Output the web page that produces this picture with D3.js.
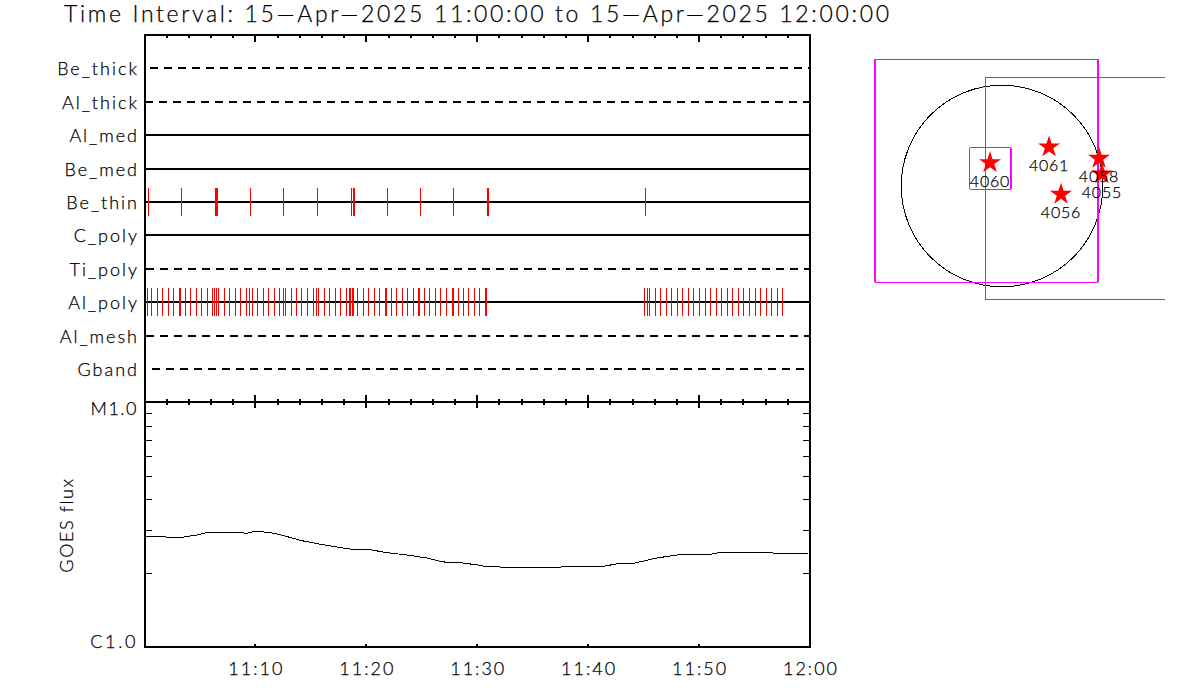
<!DOCTYPE html>
<html>
<head>
<meta charset="utf-8">
<script src="https://cdn.jsdelivr.net/npm/d3@7"></script>
<style>
html,body{margin:0;padding:0;background:#fff;}
svg{display:block;}
text{font-family:Lato,"Liberation Sans",sans-serif;font-weight:300;fill:#000;stroke:#000;stroke-width:0.25px;}
</style>
</head>
<body>
<svg id="chart" width="1200" height="700"></svg>
<script>
const titleText = "Time Interval: 15-Apr-2025 11:00:00 to 15-Apr-2025 12:00:00".replace(/-/g,"\u2014");
const filters = ["Be_thick","Al_thick","Al_med","Be_med","Be_thin","C_poly","Ti_poly","Al_poly","Al_mesh","Gband"];
const dashedFilters = {Be_thick:150, Al_thick:145, Ti_poly:146, Al_mesh:146, Gband:152};
const beThinMinutes = [0.36,3.34,6.40,6.49,6.58,9.56,12.53,15.60,18.67,18.85,18.94,21.91,24.89,27.86,30.93,31.02,45.18];
const alPolyMinutes = [0.09,0.27,0.63,1.17,1.62,2.16,2.61,3.16,3.25,3.70,4.15,4.69,5.14,5.68,6.13,6.31,6.49,6.67,7.21,7.66,8.21,8.66,9.20,9.47,9.74,10.19,10.73,11.18,11.72,12.17,12.53,12.71,13.26,13.71,14.16,14.70,15.24,15.51,15.69,16.23,16.68,17.22,17.67,18.21,18.48,18.58,18.76,18.85,19.21,19.75,20.20,20.74,21.19,21.73,21.82,22.27,22.72,23.26,23.71,24.26,24.71,24.80,25.25,25.70,26.24,26.69,27.23,27.77,27.86,28.31,28.76,29.22,29.76,30.21,30.75,30.84,45.09,45.36,45.54,46.08,46.53,47.07,47.52,48.06,48.51,49.05,49.50,50.04,50.59,51.04,51.58,52.03,52.57,53.02,53.56,54.01,54.55,55.09,55.54,56.09,56.54,57.08,57.53];
const goesMinutes = [0.14,2.48,3.38,4.73,5.73,8.43,9.24,9.96,11.14,12.22,14.2,16.1,18.5,20.15,21.87,23.67,25.47,26.92,28.27,30.25,30.52,32.5,37.47,37.64,41.52,42.87,44.23,46.03,47.56,48.56,51.26,51.89,56.58,56.67,59.83];
const goesFlux = [2.852,2.817,2.817,2.879,2.953,2.953,2.925,2.981,2.953,2.887,2.728,2.628,2.523,2.516,2.437,2.386,2.319,2.234,2.227,2.165,2.151,2.125,2.125,2.145,2.151,2.207,2.212,2.312,2.370,2.401,2.408,2.446,2.446,2.424,2.424];
const timeTickLabels = ["11:10","11:20","11:30","11:40","11:50","12:00"];
const timeTickMinutes = [10,20,30,40,50,60];
const fluxTicks = [1,2,3,4,5,6,7,8,9,10];
const arNames = ["4060","4061","4058","4055","4056"];
const arX = [-114,448,924,952,562];
const arY = [231,381,273,124,-70];
const fovX = [-152,898,-111];
const fovY = [143,-22,167];
const fovSize = [2124,2114,395];
const solarRadius = 960;

const svg = d3.select("#chart");
const magenta = "#ff00ff";
const x = d3.scaleLinear().domain([0,60]).range([144.5,810]);
const filterY = d3.scalePoint().domain(filters).range([68.2,369.16]);
const flux = d3.scaleLog().domain([1,10]).range([647.5,402.5]);
const sx = d3.scaleLinear().domain([-960,960]).range([901.2,1102.8]);
const sy = d3.scaleLinear().domain([-960,960]).range([286.8,85.2]);
const top_ = 35, mid = 402, bot = 647;

// title
svg.append("text").attr("x",64).attr("y",22).attr("font-size",23)
  .attr("textLength",825).attr("lengthAdjust","spacing").text(titleText);

// filter lines and labels
filters.forEach(f=>{
  const y = Math.round(filterY(f));
  const start = dashedFilters[f];
  svg.append("line").attr("x1",start||x(0)).attr("x2",x(60)).attr("y1",y).attr("y2",y)
    .attr("stroke","#000").attr("stroke-width",2).attr("shape-rendering","crispEdges")
    .attr("stroke-dasharray",start?"8 6":null);
  svg.append("text").attr("x",139).attr("y",y+7).attr("text-anchor","end")
    .attr("font-size",18).attr("letter-spacing",2).text(f);
});

// event marks
const drawMarks = (mins, name, half)=>{
  const yy = Math.round(filterY(name));
  svg.append("g").selectAll("line").data(mins).join("line")
    .attr("x1",d=>Math.floor(x(d))+.5).attr("x2",d=>Math.floor(x(d))+.5)
    .attr("y1",yy-half).attr("y2",yy+half)
    .attr("stroke","#ff0000").attr("stroke-width",1).attr("shape-rendering","crispEdges");
};
drawMarks(beThinMinutes,"Be_thin",14);
drawMarks(alPolyMinutes,"Al_poly",14);

// frames
const line = (x1,y1,x2,y2,w=2)=>svg.append("line").attr("x1",x1).attr("y1",y1).attr("x2",x2).attr("y2",y2)
  .attr("stroke","#000").attr("stroke-width",w).attr("shape-rendering","crispEdges");
line(x(0)-1,top_,x(60)+1,top_);
line(x(0)-1,mid,x(60)+1,mid);
line(x(0)-1,bot,x(60)+1,bot);
line(x(0),top_,x(0),bot+1);
line(x(60),top_,x(60),bot+1);

// time ticks
d3.range(2,60,2).forEach(m=>{
  const major = m%10===0;
  const px = x(m);
  line(px,top_,px,top_+(major?7:3));
  line(px,mid-(major?7:3),px,mid+(major?6:3));
  line(px,bot-(major?3:1),px,bot);
});
line(x(60),mid-6,x(60),mid+6);
timeTickMinutes.forEach((m,i)=>{
  svg.append("text").attr("x",x(m)+1).attr("y",675).attr("text-anchor","middle")
    .attr("font-size",18).attr("letter-spacing",2).text(timeTickLabels[i]);
});

// flux ticks
fluxTicks.slice(1,-1).forEach(v=>{
  const y = flux(v);
  line(x(0),y,x(0)+7,y,1);
  line(x(60)-7,y,x(60),y,1);
});
svg.append("text").attr("x",138).attr("y",415).attr("text-anchor","end").attr("font-size",18).attr("letter-spacing",1.5).text("M1.0");
svg.append("text").attr("x",138).attr("y",648).attr("text-anchor","end").attr("font-size",18).attr("letter-spacing",2.6).text("C1.0");
svg.append("text").attr("transform","translate(73,525) rotate(-90)").attr("text-anchor","middle")
  .attr("font-size",18).attr("letter-spacing",1.6).text("GOES flux");

// GOES curve
svg.append("path").attr("d",d3.line().x((d,i)=>x(goesMinutes[i])).y(d=>flux(d))(goesFlux))
  .attr("fill","none").attr("stroke","#000").attr("stroke-width",1).attr("shape-rendering","crispEdges");

// solar map
svg.append("clipPath").attr("id","mapclip").append("rect").attr("x",860).attr("y",50).attr("width",305).attr("height",260);
svg.append("circle").attr("cx",sx(0)).attr("cy",sy(0)).attr("r",sx(solarRadius)-sx(0))
  .attr("fill","none").attr("stroke","#000").attr("stroke-width",1).attr("shape-rendering","crispEdges");
const mapG = svg.append("g").attr("clip-path","url(#mapclip)");
const mag = (x1,y1,x2,y2,w)=>mapG.append("line").attr("x1",x1).attr("y1",y1).attr("x2",x2).attr("y2",y2)
  .attr("stroke",magenta).attr("stroke-width",w).attr("shape-rendering","crispEdges");
fovSize.forEach((s,i)=>{
  const half = s/2;
  const l = sx(fovX[i]-half), r = sx(fovX[i]+half), t = sy(fovY[i]+half), b = sy(fovY[i]-half);
  mag(l,t,r,t,1);
  mag(l,b,r,b,1);
  mag(l,t,l,b,i===0?2:1);
  mag(r,t,r,b,i===1?1:2);
});
const star = d3.symbol().type(d3.symbolStar).size(150);
arNames.forEach((n,i)=>{
  svg.append("path").attr("d",star()).attr("fill","#ff0000")
    .attr("transform",`translate(${sx(arX[i])},${sy(arY[i])+1})`);
});
arNames.forEach((n,i)=>{
  svg.append("text").attr("x",sx(arX[i])).attr("y",sy(arY[i])+25).attr("text-anchor","middle")
    .attr("font-size",16).attr("letter-spacing",0.8).text(n);
});
</script>
</body>
</html>
